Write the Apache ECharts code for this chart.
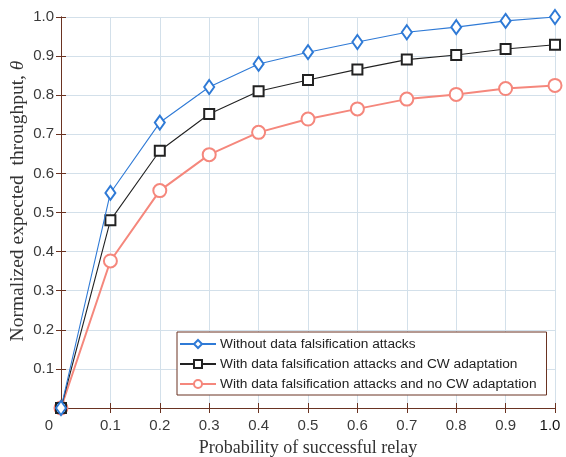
<!DOCTYPE html>
<html>
<head>
<meta charset="utf-8">
<script src="https://cdn.jsdelivr.net/npm/echarts@6/dist/echarts.min.js"></script>
<style>
  html, body { margin: 0; padding: 0; background: #fff; }
  #chart { width: 566px; height: 457px; }
</style>
</head>
<body>
<div id="chart"></div>
<script>
  // probability of successful relay
  var probs = [0, 0.1, 0.2, 0.3, 0.4, 0.5, 0.6, 0.7, 0.8, 0.9, 1.0]
  var noAttack = [0, 0.550, 0.730, 0.821, 0.880, 0.910, 0.936, 0.961, 0.974, 0.990, 1.0]
  var cwAdapt = [0, 0.480, 0.658, 0.752, 0.810, 0.839, 0.866, 0.891, 0.903, 0.918, 0.929]
  var noCwAdapt = [0, 0.376, 0.556, 0.648, 0.705, 0.739, 0.765, 0.790, 0.802, 0.817, 0.825]
  var seriesNames = [
    'Without data falsification attacks',
    'With data falsification attacks and CW adaptation',
    'With data falsification attacks and no CW adaptation'
  ]

  var frameColor = '#6a3322'
  var gridColor = '#d3e0ea'
  var labelColor = '#3a3a3a'
  var serif = 'Liberation Serif, Times New Roman'

  function pairs (ys) {
    return probs.map(function (x, i) { return [x, ys[i]] })
  }

  function fmt (v) {
    return v === 1 ? '1.0' : v.toFixed(1)
  }

  var frameAxis = {
    min: 0, max: 1, interval: 0.1, type: 'value',
    axisLine: { show: true, lineStyle: { color: frameColor, width: 1 } },
    axisTick: { show: true, inside: true, length: 5, lineStyle: { color: frameColor } },
    axisLabel: { show: false },
    splitLine: { show: false }
  }

  var myChart = echarts.init(document.getElementById('chart'))
  var option = {
    animation: false,
    grid: { left: 61, right: 11, top: 17, bottom: 49, outerBoundsMode: 'none', containLabel: false },
    legend: {
      orient: 'vertical',
      left: 177,
      top: 332,
      itemWidth: 36,
      itemHeight: 10,
      itemGap: 6,
      padding: [5, 10, 4, 2],
      backgroundColor: '#fff',
      borderColor: frameColor,
      borderWidth: 1,
      textStyle: { fontFamily: 'Liberation Sans, Arial', fontSize: 13.7, color: '#222', padding: [0, 0, 0, -1] },
      data: seriesNames
    },
    xAxis: [
      {
        type: 'value', min: 0, max: 1, interval: 0.1,
        name: 'Probability of successful relay',
        nameLocation: 'middle',
        nameGap: 31,
        nameMoveOverlap: false,
        nameTextStyle: { fontFamily: serif, fontSize: 18, color: '#333' },
        axisLine: { show: true, lineStyle: { color: frameColor } },
        axisTick: { show: true, inside: true, length: 5, lineStyle: { color: frameColor } },
        axisLabel: {
          margin: 10,
          fontFamily: 'Liberation Sans, Arial',
          fontSize: 15,
          color: labelColor,
          formatter: function (v) {
            if (v === 0) return '{z|0}'
            if (v === 1) return '{e|1.0}'
            return fmt(v)
          },
          rich: {
            z: { padding: [0, 24, 0, 0], fontSize: 15, color: labelColor },
            e: { padding: [0, 10, 0, 0], fontSize: 15, color: '#111' }
          }
        },
        splitLine: { show: true, lineStyle: { color: gridColor, width: 1 } }
      },
      Object.assign({ position: 'top' }, frameAxis)
    ],
    yAxis: [
      {
        type: 'value', min: 0, max: 1, interval: 0.1,
        name: '{t|Normalized expected  throughput, }{i|θ}',
        nameLocation: 'middle',
        nameGap: 33,
        nameMoveOverlap: false,
        nameTextStyle: {
          padding: [0, 0, 0, 23],
          rich: {
            t: { fontFamily: serif, fontSize: 19.5, color: '#333' },
            i: { fontFamily: serif, fontSize: 19.5, color: '#333', fontStyle: 'italic' }
          }
        },
        axisLine: { show: true, lineStyle: { color: frameColor } },
        axisTick: { show: true, inside: true, length: 5, lineStyle: { color: frameColor } },
        axisLabel: {
          margin: 7,
          fontFamily: 'Liberation Sans, Arial',
          fontSize: 15,
          color: labelColor,
          formatter: function (v) { return v === 0 ? '' : fmt(v) }
        },
        splitLine: { show: true, lineStyle: { color: gridColor, width: 1 } }
      },
      Object.assign({ position: 'right' }, frameAxis)
    ],
    series: [
      {
        name: seriesNames[0],
        type: 'line',
        data: pairs(noAttack),
        symbol: 'emptyDiamond',
        symbolSize: [10, 14],
        lineStyle: { color: '#2f7ad6', width: 1.1 },
        itemStyle: { color: '#2f7ad6', borderWidth: 1 },
        z: 4
      },
      {
        name: seriesNames[1],
        type: 'line',
        data: pairs(cwAdapt),
        symbol: 'emptyRect',
        symbolSize: 10,
        lineStyle: { color: '#222222', width: 1.1 },
        itemStyle: { color: '#222222', borderWidth: 1 },
        z: 3
      },
      {
        name: seriesNames[2],
        type: 'line',
        data: pairs(noCwAdapt),
        symbol: 'emptyCircle',
        symbolSize: 13,
        lineStyle: { color: '#f5877c', width: 2 },
        itemStyle: { color: '#f5877c', borderWidth: 1.3 },
        z: 2
      }
    ]
  }
  myChart.setOption(option)
</script>
</body>
</html>
